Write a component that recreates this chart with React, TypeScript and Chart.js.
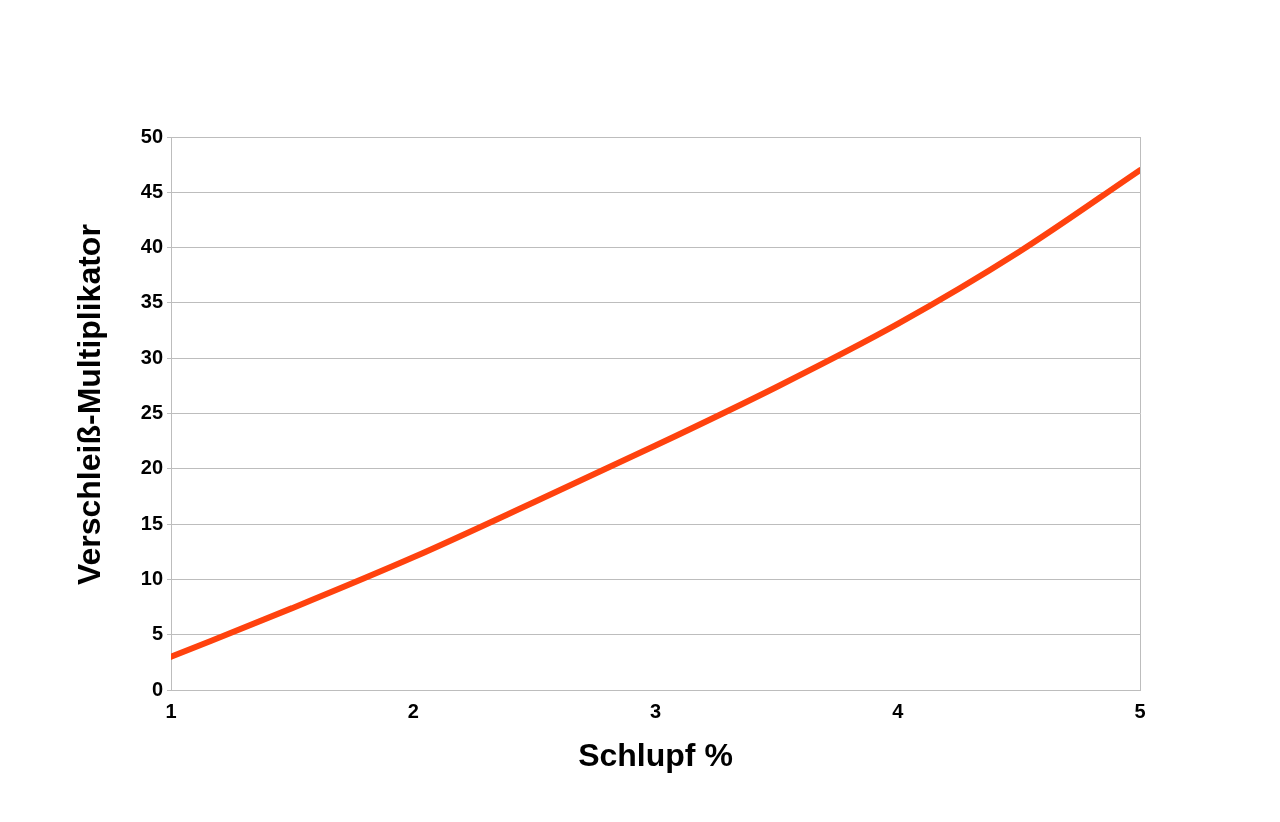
import React, { useEffect, useRef } from "react";
import { Chart, registerables } from "chart.js";

Chart.register(...registerables);

const slipPercent = [1, 1.5, 2, 2.5, 3, 3.5, 4, 4.5, 5];
const wearMultiplier = [3, 7.4, 12, 17.0, 22.1, 27.4, 33.1, 39.6, 47];
const xTicks = [1, 2, 3, 4, 5];
const xTitle = "Schlupf %";
const yTitle = "Verschleiß-Multiplikator";

const GRID = "#bdbdbd";
const FONT = "'Liberation Sans', Arial, sans-serif";

export default function App() {
  const ref = useRef<HTMLCanvasElement | null>(null);

  useEffect(() => {
    document.body.style.margin = "0";
    const canvas = ref.current;
    if (!canvas) return;
    const chart = new Chart(canvas, {
      type: "line",
      data: {
        datasets: [
          {
            data: slipPercent.map((x, i) => ({ x, y: wearMultiplier[i] })),
            borderColor: "#ff420e",
            backgroundColor: "#ff420e",
            borderWidth: 6,
            pointRadius: 0,
            cubicInterpolationMode: "monotone",
            borderCapStyle: "round",
          },
        ],
      },
      options: {
        animation: false,
        responsive: false,
        maintainAspectRatio: false,
        layout: { padding: { top: 137, right: 140, bottom: 0, left: 60 } },
        plugins: { legend: { display: false }, tooltip: { enabled: false } },
        scales: {
          x: {
            type: "linear",
            min: 1,
            max: 5,
            afterBuildTicks: (scale: any) => {
              scale.ticks = xTicks.map((v) => ({ value: v }));
            },
            afterFit: (scale: any) => {
              scale.height = 132;
            },
            grid: {
              color: (ctx: any) =>
                ctx.tick && (ctx.tick.value === 1 || ctx.tick.value === 5) ? GRID : "rgba(0,0,0,0)",
              tickColor: "rgba(0,0,0,0)",
              tickLength: 5,
              lineWidth: 1,
            },
            border: { color: GRID },
            ticks: {
              color: "#000",
              padding: 5,
              maxRotation: 0,
              autoSkip: false,
              font: { family: FONT, size: 20, weight: "bold" },
            },
            title: {
              display: true,
              text: xTitle,
              color: "#000",
              font: { family: FONT, size: 32, weight: "bold" },
              padding: { top: 0, bottom: 46 },
            },
          },
          y: {
            min: 0,
            max: 50,
            afterFit: (scale: any) => {
              scale.width = 111;
            },
            grid: { color: GRID, tickColor: GRID, tickLength: 4, lineWidth: 1 },
            border: { color: GRID },
            ticks: {
              stepSize: 5,
              color: "#000",
              padding: 4,
              font: { family: FONT, size: 20, weight: "bold" },
            },
            title: {
              display: true,
              text: "  " + yTitle,
              color: "#000",
              font: { family: FONT, size: 32, weight: "bold" },
              padding: { top: 12, bottom: 0 },
            },
          },
        },
      },
    } as any);
    return () => chart.destroy();
  }, []);

  return (
    <div style={{ position: "absolute", left: 0, top: 0, width: 1280, height: 822, background: "#fff" }}>
      <canvas ref={ref} width={1280} height={822} style={{ display: "block", width: 1280, height: 822 }} />
    </div>
  );
}
